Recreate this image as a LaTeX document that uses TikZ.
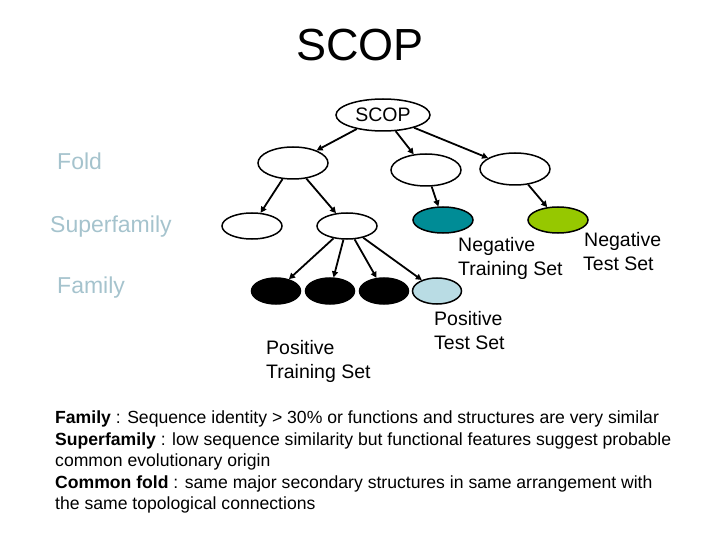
\documentclass[tikz,border=0pt]{standalone}
\usepackage{fontspec}
\setmainfont{Liberation Sans}
\usetikzlibrary{arrows.meta,shapes.geometric}
\definecolor{lvl}{RGB}{165,195,205}
\definecolor{teal1}{RGB}{0,140,150}
\definecolor{lime1}{RGB}{150,200,0}
\definecolor{lblue}{RGB}{185,220,228}
\begin{document}
\begin{tikzpicture}[x=1pt,y=-1pt,
  e/.style={draw,line width=1.5pt,ellipse,minimum width=#1},
  n/.style={e=70,minimum height=32},
  s/.style={e=60,minimum height=26},
  f/.style={e=49,minimum height=26},
  arr/.style={-{Triangle[length=6pt,width=6pt]},line width=1.8pt},
  lab/.style={font=\fontsize{19.5}{24}\selectfont,align=left,inner sep=0pt},
  lv/.style={text=lvl,font=\fontsize{23}{26}\selectfont,anchor=west,inner sep=0pt}]
\useasboundingbox (0,0) rectangle (720,540);
\node[font=\fontsize{45}{48}\selectfont] (title) at (360,45) {SCOP};
\node[e=94,minimum height=32,font=\fontsize{19.5}{21}\selectfont,inner sep=1pt] (root) at (383,115) {SCOP};
\node[n] (f1) at (293,163) {};
\node[n] (f2) at (426,170) {};
\node[n] (f3) at (515,169) {};
\node[s] (s1) at (252,226) {};
\node[s] (s2) at (347,226) {};
\node[s,fill=teal1] (s3) at (443,220) {};
\node[s,fill=lime1] (s4) at (558,220) {};
\node[f,fill=black] (b1) at (276,291) {};
\node[f,fill=black] (b2) at (330,291) {};
\node[f,fill=black] (b3) at (384,291) {};
\node[f,fill=lblue] (b4) at (437,291) {};
\draw[arr] (root) -- (f1); \draw[arr] (root) -- (f2); \draw[arr] (root) -- (f3);
\draw[arr] (f1) -- (s1); \draw[arr] (f1) -- (s2);
\draw[arr] (f2) -- (s3); \draw[arr] (f3) -- (s4);
\draw[arr] (s2) -- (b1); \draw[arr] (s2) -- (b2); \draw[arr] (s2) -- (b3); \draw[arr] (s2) -- (b4);
\node[lv] (lf) at (57,161) {Fold};
\node[lv] (ls) at (50,227) {Superfamily};
\node[lv] (lfa) at (57,288) {Family};
\node[lab,anchor=north west] (nt) at (458,237) {Negative\\Training Set};
\node[lab,anchor=north west] (nte) at (583,232) {\hspace*{1pt}Negative\\Test Set};
\node[lab,anchor=north west] (pt) at (434,311) {Positive\\Test Set};
\node[lab,anchor=north west] (ptr) at (266,340) {Positive\\Training Set};
\node[anchor=north west,align=left,font=\fontsize{17.6}{21.5}\selectfont,inner sep=0pt] (desc) at (55,411)
{\textbf{Family} : Sequence identity > 30\% or functions and structures are very similar\\
\textbf{Superfamily} : low sequence similarity but functional features suggest probable\\
common evolutionary origin\\
\textbf{Common fold} : same major secondary structures in same arrangement with\\
the same topological connections};
\end{tikzpicture}
\end{document}
